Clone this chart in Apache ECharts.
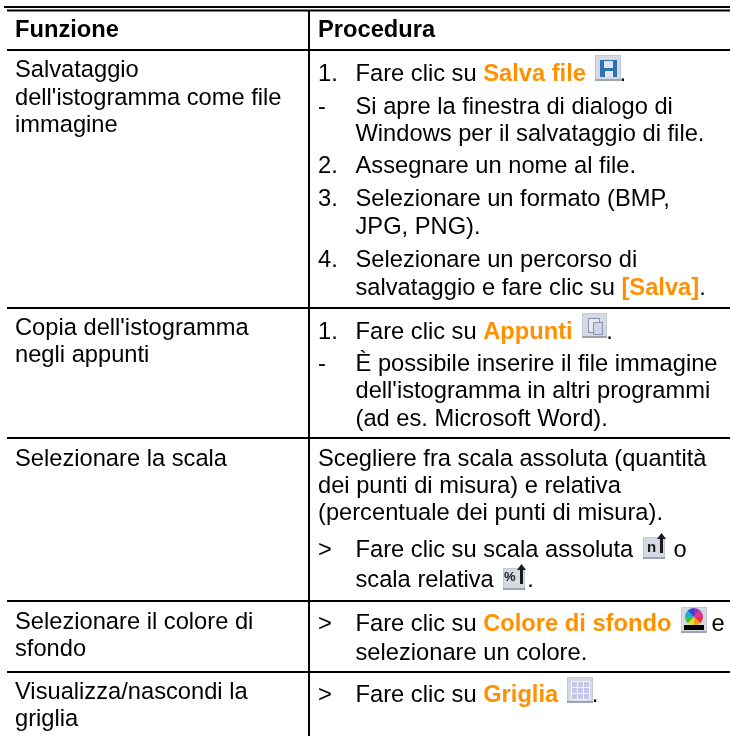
<!DOCTYPE html>
<html>
<head>
<meta charset="utf-8">
<script src="https://cdn.jsdelivr.net/npm/echarts@6/dist/echarts.min.js"></script>
<style>
html, body { margin: 0; padding: 0; background: #fff; }
#chart_1 { width: 730px; height: 736px; }
</style>
</head>
<body>
<div id="chart_1"></div>
<script>
// table text
var headers = ['Funzione', 'Procedura'];
var functions = [
    ['Salvataggio', "dell'istogramma come file", 'immagine'],
    ["Copia dell'istogramma", 'negli appunti'],
    ['Selezionare la scala'],
    ['Selezionare il colore di', 'sfondo'],
    ['Visualizza/nascondi la', 'griglia']
];
// [marker, text], {o|...} = orange bold, {ic|} = room left for a toolbar icon
var procedures = [
    [
        ['1.', 'Fare clic su {o|Salva file} {ic| }.'],
        ['-', 'Si apre la finestra di dialogo di'],
        ['', 'Windows per il salvataggio di file.'],
        ['2.', 'Assegnare un nome al file.'],
        ['3.', 'Selezionare un formato (BMP,'],
        ['', 'JPG, PNG).'],
        ['4.', 'Selezionare un percorso di'],
        ['', 'salvataggio e fare clic su {o|[Salva]}.']
    ],
    [
        ['1.', 'Fare clic su {o|Appunti} {ic| }.'],
        ['-', 'È possibile inserire il file immagine'],
        ['', "dell'istogramma in altri programmi"],
        ['', '(ad es. Microsoft Word).']
    ],
    [
        [null, 'Scegliere fra scala assoluta (quantità'],
        [null, 'dei punti di misura) e relativa'],
        [null, '(percentuale dei punti di misura).'],
        ['>', 'Fare clic su scala assoluta {ic| } o'],
        ['', 'scala relativa {ic| }.']
    ],
    [
        ['>', 'Fare clic su {o|Colore di sfondo} {ic| } e'],
        ['', 'selezionare un colore.']
    ],
    [
        ['>', 'Fare clic su {o|Griglia} {ic| }.']
    ]
];

// layout
var font = '"Liberation Sans", Arial, sans-serif';
var fontSize = 23.7;
var colMid = 309;
var xLeft = 15, xMarker = 318, xBody = 355.5, xPlain = 318;
var ruleYs = [50, 308, 438, 601, 672];
var headerY = 30;
var leftYs = [70, 98, 125, 328, 355.5, 459, 622, 649, 692, 719];
var rightYs = [
    [74, 107, 134, 166, 199, 227, 260, 288],
    [332, 364, 391, 419],
    [459, 486, 513, 550, 580],
    [624, 653],
    [695]
];
var orange = '#ff9000';

function textEl(x, y, str, bold) {
    return {
        type: 'text',
        x: x,
        y: y,
        style: {
            text: str,
            fontFamily: font,
            fontSize: fontSize,
            fontWeight: bold ? 'bold' : 'normal',
            fill: '#000',
            textAlign: 'left',
            verticalAlign: 'middle',
            rich: {
                o: { fontFamily: font, fontSize: fontSize, fontWeight: 'bold', fill: orange, color: orange },
                ic: { width: 27, fontFamily: font, fontSize: fontSize }
            }
        }
    };
}

function lineEl(x1, y1, x2, y2, w) {
    return {
        type: 'line',
        shape: { x1: x1, y1: y1, x2: x2, y2: y2 },
        style: { stroke: '#000', lineWidth: w }
    };
}

function rect(x, y, w, h, c) {
    return { type: 'rect', shape: { x: x, y: y, width: w, height: h }, style: { fill: c } };
}

function iconBase(x, y, size, kids) {
    var children = [
        rect(0, 0, size, size, '#c3c8d4'),
        rect(1, 1, size - 2, size - 2, '#d5d9e2'),
        rect(0, size - 2, size, 2, '#9da3b1')
    ].concat(kids);
    return { type: 'group', x: x, y: y, children: children };
}

// the small arrow on the two scale icons, it sticks out above the button
function scaleIcon(x, y, label, labelX, labelSize) {
    return iconBase(x, y + 4, 22, [
        { type: 'text', x: labelX, y: 3, style: { text: label, fontFamily: font, fontSize: labelSize, fontWeight: 'bold', fill: '#1a1a1a' } },
        rect(17, 1, 3, 15, '#1a1a1a'),
        { type: 'polygon', shape: { points: [[14, 2], [18.5, -4], [23, 2]] }, style: { fill: '#1a1a1a' } }
    ]);
}

var elements = [];
elements.push(lineEl(4, 7, 730, 7, 2));
elements.push(lineEl(7, 10.5, 730, 10.5, 2));
elements.push(lineEl(colMid, 10, colMid, 736, 2));
ruleYs.forEach(function (y) {
    elements.push(lineEl(7, y, 730, y, 2));
});

elements.push(textEl(xLeft, headerY, headers[0], true));
elements.push(textEl(xPlain, headerY, headers[1], true));

var li = 0;
functions.forEach(function (row) {
    row.forEach(function (str) {
        elements.push(textEl(xLeft, leftYs[li], str, false));
        li++;
    });
});

procedures.forEach(function (row, r) {
    row.forEach(function (line, l) {
        var y = rightYs[r][l];
        if (line[0] === null) {
            elements.push(textEl(xPlain, y, line[1], false));
            return;
        }
        if (line[0]) {
            elements.push(textEl(xMarker, y, line[0], false));
        }
        elements.push(textEl(xBody, y, line[1], false));
    });
});

// toolbar icons
elements.push(iconBase(595, 55, 26, [
    rect(5, 5, 17, 17, '#2f6fb4'),
    rect(9, 6, 9, 7, '#dfe6f2'),
    rect(10, 16, 8, 6, '#dfe6f2')
]));
elements.push(iconBase(582, 313, 25, [
    rect(6, 5, 12, 15, '#8c93ac'),
    rect(7, 6, 10, 13, '#e8e9f2'),
    rect(11, 9, 10, 13, '#8c93ac'),
    rect(12, 10, 8, 11, '#cfd3e6')
]));
elements.push(scaleIcon(643, 533, 'n', 4, 15));
elements.push(scaleIcon(503, 564, '%', 1, 13));
var wheelColors = ['#e8352e', '#f0a020', '#e8e020', '#40c040', '#20b0c0', '#2050d0', '#a030c0', '#e03090'];
var wheel = wheelColors.map(function (c, i) {
    return {
        type: 'sector',
        shape: {
            cx: 13, cy: 10, r: 9, r0: 0,
            startAngle: i * Math.PI / 4, endAngle: (i + 1) * Math.PI / 4
        },
        style: { fill: c }
    };
});
elements.push(iconBase(681, 607, 26, wheel.concat([rect(3, 18, 20, 5, '#000')])));
var gridCells = [];
for (var gx = 0; gx < 3; gx++) {
    for (var gy = 0; gy < 3; gy++) {
        gridCells.push(rect(5 + gx * 6, 5 + gy * 6, 5, 5, '#c4c6ea'));
    }
}
elements.push(iconBase(567, 677, 26, [rect(4, 4, 19, 19, '#f2f2fa')].concat(gridCells)));

var myChart = echarts.init(document.getElementById('chart_1'));
var option = {
    animation: false,
    backgroundColor: '#fff',
    graphic: { elements: elements }
};
myChart.setOption(option);
</script>
</body>
</html>
